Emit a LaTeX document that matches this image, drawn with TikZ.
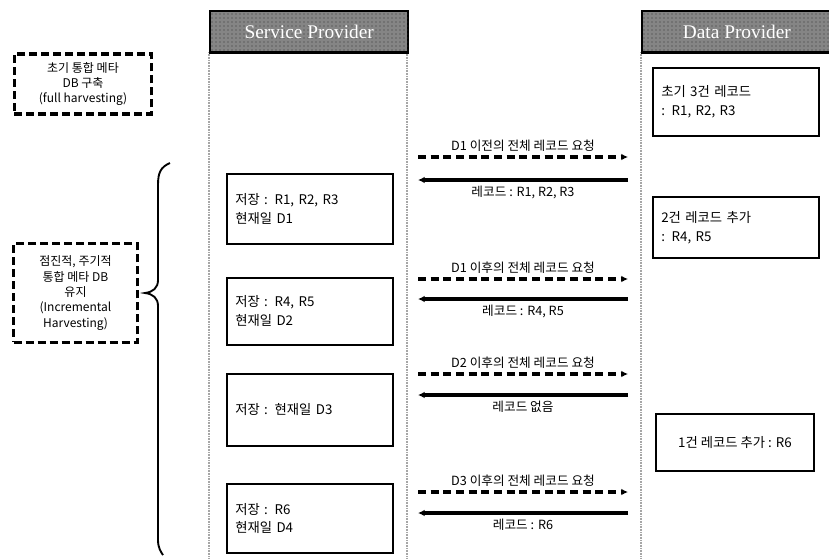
\documentclass[tikz,border=0pt]{standalone}
\usepackage{fontspec}
\setmainfont{Noto Sans CJK KR}
\newfontfamily\hdrfont{Liberation Serif}
\usetikzlibrary{patterns,arrows.meta}
\tikzset{
  hdr/.style={draw=black,line width=1.8pt,fill=black!48,postaction={pattern=dots,pattern color=black!80},
    minimum height=31pt,inner sep=0pt,font=\hdrfont\fontsize{14.5}{15}\selectfont,text=white},
  life/.style={draw=gray!70,dash pattern=on 0.6pt off 0.6pt,line width=1.2pt},
  box/.style={draw=black,line width=1.4pt,inner xsep=5pt,align=left,font=\fontsize{10}{14}\selectfont},
  note/.style={draw=black,line width=2.4pt,dash pattern=on 6pt off 3pt,align=center,font=\fontsize{9}{11.5}\selectfont,inner sep=2pt},
  req/.style={line width=2.4pt,dash pattern=on 6pt off 3.5pt,-{Latex[length=5pt,width=5pt]}},
  rsp/.style={line width=2.4pt,-{Latex[length=5pt,width=5pt]}},
  lbl/.style={font=\fontsize{9.5}{11}\selectfont,inner sep=1pt}
}
\begin{document}
\begin{tikzpicture}[x=0.75pt,y=-0.75pt]
\useasboundingbox (0,0) rectangle (829,558);
% lifelines
\draw[life] (209,52) -- (209,558);
\draw[life] (407,52) -- (407,558);
\draw[life] (641,52) -- (641,558);
% headers
\node[hdr,minimum width=148.5pt,anchor=north west] (sp) at (209,10) {Service Provider};
\node[hdr,minimum width=142pt,anchor=north west] (dp) at (641,10) {Data Provider};
% left notes
\node[note,minimum width=103pt,minimum height=45pt] (n1) at (83,84) {초기 통합 메타\\DB 구축\\(full harvesting)};
\node[note,minimum width=93pt,minimum height=74pt] (n2) at (75.5,293) {점진적, 주기적\\통합 메타 DB\\유지\\(Incremental\\Harvesting)};
% brace
\draw[line width=1.4pt] (170,163) .. controls (161,167) and (158,172) .. (158,185) -- (158,280)
  .. controls (158,288) and (153,292) .. (145,293) .. controls (153,294) and (158,298) .. (158,306)
  -- (158,540) .. controls (158,548) and (161,552) .. (163,555);
% service provider boxes
\node[box,anchor=north west,minimum width=124.5pt,minimum height=52.5pt,text width=112pt] (s1) at (226,173) {저장 : R1, R2, R3\\현재일 D1};
\node[box,anchor=north west,minimum width=124.5pt,minimum height=50pt,text width=112pt] (s2) at (226,277) {저장 : R4, R5\\현재일 D2};
\node[box,anchor=north west,minimum width=124.5pt,minimum height=54pt,text width=112pt] (s3) at (226,373) {저장 : 현재일 D3};
\node[box,anchor=north west,minimum width=124.5pt,minimum height=52pt,text width=112pt] (s4) at (226,483) {저장 : R6\\현재일 D4};
% data provider boxes
\node[box,anchor=north west,minimum width=124.5pt,minimum height=51pt,text width=112pt] (d1) at (652,67) {초기 3건 레코드\\: R1, R2, R3};
\node[box,anchor=north west,minimum width=124.5pt,minimum height=46pt,text width=112pt] (d2) at (652,196) {2건 레코드 추가\\: R4, R5};
\node[box,anchor=north west,minimum width=118.5pt,minimum height=43pt,align=center] (d3) at (655,413) {1건 레코드 추가 : R6};
% arrow end points
\foreach \i/\ya/\yb in {1/157/180,2/279/299,3/374/395,4/492/513}{
  \coordinate (l\i a) at (418,\ya); \coordinate (r\i a) at (628,\ya);
  \coordinate (l\i b) at (418,\yb); \coordinate (r\i b) at (628,\yb);
}
\draw[req] (l1a) -- node[lbl,above=2pt] {D1 이전의 전체 레코드 요청} (r1a);
\draw[rsp] (r1b) -- node[lbl,below=2pt] {레코드 : R1, R2, R3} (l1b);
\draw[req] (l2a) -- node[lbl,above=2pt] {D1 이후의 전체 레코드 요청} (r2a);
\draw[rsp] (r2b) -- node[lbl,below=2pt] {레코드 : R4, R5} (l2b);
\draw[req] (l3a) -- node[lbl,above=2pt] {D2 이후의 전체 레코드 요청} (r3a);
\draw[rsp] (r3b) -- node[lbl,below=2pt] {레코드 없음} (l3b);
\draw[req] (l4a) -- node[lbl,above=2pt] {D3 이후의 전체 레코드 요청} (r4a);
\draw[rsp] (r4b) -- node[lbl,below=2pt] {레코드 : R6} (l4b);
\end{tikzpicture}
\end{document}
